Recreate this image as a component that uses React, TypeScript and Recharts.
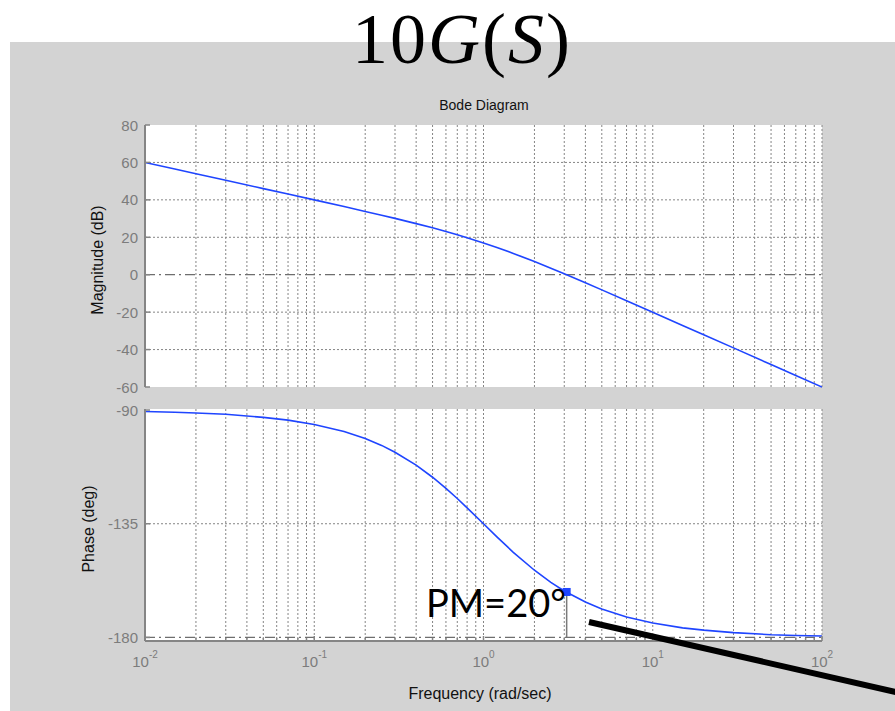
import React from "react";
import {
  LineChart,
  Line,
  XAxis,
  YAxis,
  CartesianGrid,
  ReferenceLine,
  ReferenceDot,
} from "recharts";

// frequency points (rad/sec)
const FREQS = [
  0.01, 0.015, 0.02, 0.03, 0.05, 0.07, 0.1, 0.15, 0.2, 0.25, 0.3, 0.4, 0.5,
  0.6, 0.7, 0.8, 1, 1.2, 1.5, 2, 2.5, 3, 4, 5, 7, 10, 15, 20, 30, 50, 70, 100,
];
const MAG_DB = [
  60.0, 56.5, 54.0, 50.5, 46.0, 43.1, 40.0, 36.4, 33.8, 31.8, 30.1, 27.3,
  25.1, 23.1, 21.4, 19.8, 17.0, 14.6, 11.4, 7.0, 3.4, 0.5, -4.3, -8.1, -13.9,
  -20.0, -27.1, -32.1, -39.1, -48.0, -53.8, -60.0,
];
const PHASE_DEG = [
  -90.6, -90.9, -91.2, -91.7, -92.9, -94.0, -95.7, -98.5, -101.3, -104.0,
  -106.7, -111.8, -116.6, -121.0, -125.0, -128.7, -135.0, -140.2, -146.3,
  -153.4, -158.2, -161.6, -166.0, -168.7, -171.9, -174.3, -176.2, -177.1,
  -178.1, -178.9, -179.2, -179.4,
];

const X_TICKS = [
  0.01, 0.02, 0.03, 0.04, 0.05, 0.06, 0.07, 0.08, 0.09,
  0.1, 0.2, 0.3, 0.4, 0.5, 0.6, 0.7, 0.8, 0.9,
  1, 2, 3, 4, 5, 6, 7, 8, 9,
  10, 20, 30, 40, 50, 60, 70, 80, 90, 100,
];
const MAG_TICKS = [-60, -40, -20, 0, 20, 40, 60, 80];
const MAG_GRID = [-40, -20, 20, 40, 60];
const PHASE_TICKS = [-180, -135, -90];
const PHASE_GRID = [-135];

const PM_FREQ = 3.1;
const PM_PHASE = -162;

const BLUE = "#1f45ff";
const FRAME = "#858585";
const GRID = "#858585";
const TICK_TXT = "#7c7c7c";
const SANS = "'Liberation Sans', Arial, sans-serif";

const magData = FREQS.map((f, i) => ({ f, mag: MAG_DB[i] }));
const phaseData = FREQS.map((f, i) => ({ f, phase: PHASE_DEG[i] }));

const isDecade = (v: number) =>
  Math.abs(Math.log10(v) - Math.round(Math.log10(v))) < 1e-6;

function XTick(props: any) {
  const { x, y, payload, side, showLabel } = props;
  const major = isDecade(payload.value);
  const len = major ? 5 : 3;
  const dir = side === "top" ? 1 : -1;
  const exp = Math.round(Math.log10(payload.value));
  return (
    <g>
      <line x1={x} x2={x} y1={y} y2={y + dir * len} stroke={FRAME} strokeWidth={1.5} />
      {showLabel && major && (
        <text x={x} y={y + 26} textAnchor="middle" fill={TICK_TXT} fontSize={15} fontFamily={SANS}>
          10
          <tspan dy={-9} fontSize={10}>
            {exp}
          </tspan>
        </text>
      )}
    </g>
  );
}

function YTick(props: any) {
  const { x, y, payload, side } = props;
  const dir = side === "right" ? -1 : 1;
  return (
    <g>
      <line x1={x} x2={x + dir * 5} y1={y} y2={y} stroke={FRAME} strokeWidth={1.5} />
      {side === "left" && (
        <text x={x - 7} y={y + 5.5} textAnchor="end" fill={TICK_TXT} fontSize={15} fontFamily={SANS}>
          {payload.value}
        </text>
      )}
    </g>
  );
}

const frameLine = { stroke: FRAME, strokeWidth: 2 };

export default function App() {
  const xAxisCommon = {
    dataKey: "f",
    type: "number" as const,
    scale: "log" as const,
    domain: [0.01, 100],
    ticks: X_TICKS,
    interval: 0 as const,
    allowDataOverflow: true,
    tickSize: 0,
    tickMargin: 0,
    tickLine: false,
    axisLine: frameLine,
  };

  return (
    <div style={{ position: "absolute", left: 0, top: 0, width: 895, height: 711, background: "#fff", overflow: "hidden" }}>
      <div style={{ position: "absolute", left: 10, top: 42, width: 885, height: 669, background: "#d3d3d3" }} />

      <div style={{ position: "absolute", left: 0, top: 0 }}>
        <LineChart width={895} height={400} data={magData} margin={{ top: 125, right: 73, bottom: 13, left: 85 }}>
          <CartesianGrid horizontal={false} stroke={GRID} strokeDasharray="2 2" fill="#fff" />
          <XAxis {...xAxisCommon} height={0} tick={(p: any) => <XTick {...p} side="bottom" />} />
          <XAxis {...xAxisCommon} xAxisId="t" orientation="top" height={0} tick={(p: any) => <XTick {...p} side="top" />} />
          <YAxis
            type="number"
            domain={[-60, 80]}
            ticks={MAG_TICKS}
            interval={0}
            width={60}
            tickSize={0}
            tickMargin={0}
            tickLine={false}
            axisLine={frameLine}
            tick={(p: any) => <YTick {...p} side="left" />}
          />
          <YAxis
            yAxisId="r"
            orientation="right"
            type="number"
            domain={[-60, 80]}
            ticks={MAG_TICKS}
            interval={0}
            width={0}
            tickSize={0}
            tickMargin={0}
            tickLine={false}
            axisLine={frameLine}
            tick={(p: any) => <YTick {...p} side="right" />}
          />
          {MAG_GRID.map((v) => (
            <ReferenceLine key={v} y={v} stroke={GRID} strokeDasharray="2 2" />
          ))}
          <ReferenceLine y={0} stroke="#6e6e6e" strokeWidth={1.2} strokeDasharray="10 4 2 4" />
          <Line dataKey="mag" type="linear" stroke={BLUE} strokeWidth={1.6} dot={false} isAnimationActive={false} />
        </LineChart>
      </div>

      <div style={{ position: "absolute", left: 0, top: 400 }}>
        <LineChart width={895} height={311} data={phaseData} margin={{ top: 9, right: 73, bottom: 30, left: 85 }}>
          <CartesianGrid horizontal={false} stroke={GRID} strokeDasharray="2 2" fill="#fff" />
          <XAxis {...xAxisCommon} height={40} tick={(p: any) => <XTick {...p} side="bottom" showLabel />} />
          <XAxis {...xAxisCommon} xAxisId="t" orientation="top" height={0} tick={(p: any) => <XTick {...p} side="top" />} />
          <YAxis
            type="number"
            domain={[-181.4, -89.6]}
            ticks={PHASE_TICKS}
            interval={0}
            allowDataOverflow
            width={60}
            tickSize={0}
            tickMargin={0}
            tickLine={false}
            axisLine={frameLine}
            tick={(p: any) => <YTick {...p} side="left" />}
          />
          <YAxis
            yAxisId="r"
            orientation="right"
            type="number"
            domain={[-181.4, -89.6]}
            ticks={PHASE_TICKS}
            interval={0}
            allowDataOverflow
            width={0}
            tickSize={0}
            tickMargin={0}
            tickLine={false}
            axisLine={frameLine}
            tick={(p: any) => <YTick {...p} side="right" />}
          />
          {PHASE_GRID.map((v) => (
            <ReferenceLine key={v} y={v} stroke={GRID} strokeDasharray="2 2" />
          ))}
          <ReferenceLine y={-180} stroke="#6e6e6e" strokeWidth={1.2} strokeDasharray="10 4 2 4" />
          <ReferenceLine
            segment={[
              { x: PM_FREQ, y: PM_PHASE },
              { x: PM_FREQ, y: -180 },
            ]}
            stroke="#7a7a7a"
            strokeWidth={1.5}
          />
          <Line dataKey="phase" type="linear" stroke={BLUE} strokeWidth={1.6} dot={false} isAnimationActive={false} />
          <ReferenceDot
            x={PM_FREQ}
            y={PM_PHASE}
            r={4}
            shape={(p: any) => <rect x={p.cx - 4} y={p.cy - 4} width={8} height={8} fill={BLUE} />}
          />
        </LineChart>
      </div>

      <svg width={895} height={711} style={{ position: "absolute", left: 0, top: 0, pointerEvents: "none" }}>
        <text
          x={352}
          y={63}
          fontFamily="'Liberation Serif', 'DejaVu Serif', serif"
          fontSize={72}
          letterSpacing={2}
          fill="#000"
        >
          10<tspan fontStyle="italic">G</tspan>(<tspan fontStyle="italic">S</tspan>)
        </text>
        <text x={484} y={110} textAnchor="middle" fontFamily={SANS} fontSize={14} fill="#111">
          Bode Diagram
        </text>
        <text
          transform="translate(97,260) rotate(-90)"
          textAnchor="middle"
          dominantBaseline="central"
          fontFamily={SANS}
          fontSize={16}
          fill="#111"
        >
          Magnitude (dB)
        </text>
        <text
          transform="translate(88,529) rotate(-90)"
          textAnchor="middle"
          dominantBaseline="central"
          fontFamily={SANS}
          fontSize={16}
          fill="#111"
        >
          Phase (deg)
        </text>
        <text x={480} y={699} textAnchor="middle" fontFamily={SANS} fontSize={16} fill="#111">
          Frequency (rad/sec)
        </text>
        <text x={426} y={617} fontFamily="Lato, 'Open Sans', sans-serif" fontSize={38} fill="#000">
          PM=20°
        </text>
        <line x1={589} y1={622} x2={900} y2={693} stroke="#000" strokeWidth={6} />
      </svg>
    </div>
  );
}
